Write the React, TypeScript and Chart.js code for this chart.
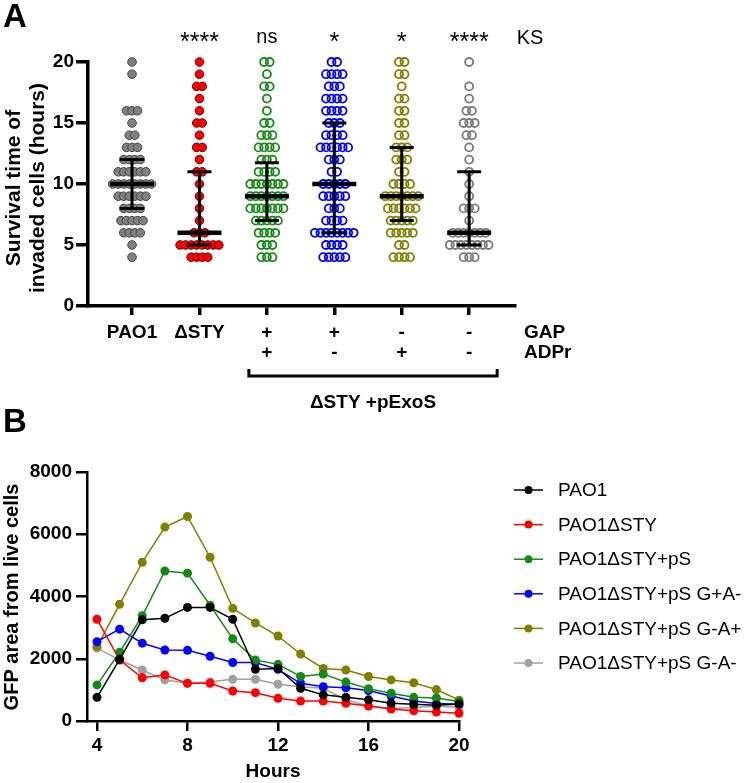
import React, { useEffect, useRef } from 'react';
import { Chart, registerables } from 'chart.js';
Chart.register(...registerables);

const FONT = '"Liberation Sans", Arial, Helvetica, sans-serif';

// ---------- Panel A data ----------
const groupLabels = ['PAO1', 'ΔSTY', '+', '+', '-', '-'];
const adprLabels = ['', '', '+', '-', '+', '-'];
const sigLabels = ['', '****', 'ns', '*', '*', '****'];
const survivalHours = [4, 5, 6, 7, 8, 9, 10, 11, 12, 13, 14, 15, 16, 17, 18, 19, 20];
const countsPAO1 = [1, 1, 4, 5, 4, 6, 8, 6, 4, 3, 2, 1, 3, 0, 0, 1, 1];
const countsDSTY = [4, 8, 3, 1, 1, 1, 1, 2, 1, 2, 1, 2, 1, 1, 2, 1, 1];
const countsGpAp = [3, 3, 4, 5, 7, 7, 7, 4, 3, 4, 3, 2, 1, 1, 2, 1, 2];
const countsGpAm = [5, 4, 8, 4, 3, 5, 5, 2, 3, 6, 4, 3, 4, 4, 3, 4, 2];
const countsGmAp = [4, 2, 5, 5, 6, 7, 4, 2, 3, 3, 2, 2, 2, 2, 1, 2, 2];
const countsGmAm = [3, 8, 7, 1, 3, 1, 1, 1, 1, 1, 2, 3, 2, 1, 1, 0, 1];
const medians = [10, 6, 9, 10, 9, 6];
const lowerBars = [8, 5, 7, 6, 7, 5];
const upperBars = [12, 11, 11.75, 15, 13, 11];

// ---------- Panel B data ----------
const hours = [4, 5, 6, 7, 8, 9, 10, 11, 12, 13, 14, 15, 16, 17, 18, 19, 20];
const seriesNames = ['PAO1', 'PAO1ΔSTY', 'PAO1ΔSTY+pS', 'PAO1ΔSTY+pS G+A-', 'PAO1ΔSTY+pS G-A+', 'PAO1ΔSTY+pS G-A-'];
const gfpPAO1 = [760, 1980, 3250, 3300, 3650, 3650, 3270, 1660, 1690, 1050, 840, 760, 680, 570, 535, 510, 545];
const gfpDSTY = [3270, 1960, 1390, 1480, 1210, 1210, 965, 910, 730, 640, 640, 570, 480, 385, 330, 290, 250];
const gfpPS = [1160, 2210, 3380, 4820, 4750, 3720, 2640, 1960, 1820, 1430, 1510, 1250, 1040, 890, 760, 740, 630];
const gfpGpAm = [2550, 2950, 2500, 2280, 2270, 2080, 1880, 1880, 1660, 1210, 1100, 1070, 980, 800, 640, 560, 540];
const gfpGmAp = [2390, 3750, 5100, 6230, 6570, 5260, 3620, 3150, 2730, 2150, 1690, 1640, 1430, 1320, 1230, 1010, 670];
const gfpGmAm = [2340, 1960, 1640, 1320, 1210, 1260, 1340, 1340, 1180, 1100, 1050, 680, 480, 400, 430, 470, 440];
const xTicksB = [4, 8, 12, 16, 20];

const DOT_STEP = 0.082;

function swarm(counts: number[], gi: number) {
  const pts: { x: number; y: number }[] = [];
  counts.forEach((n, k) => {
    for (let j = 0; j < n; j++) {
      pts.push({ x: gi + (j - (n - 1) / 2) * DOT_STEP, y: survivalHours[k] });
    }
  });
  return pts;
}

function textCenter(ctx: CanvasRenderingContext2D, txt: string, x: number, cy: number, font: string, align: CanvasTextAlign = 'center') {
  ctx.font = font;
  ctx.textAlign = align;
  ctx.textBaseline = 'alphabetic';
  const m = ctx.measureText(txt);
  ctx.fillText(txt, x, cy + (m.actualBoundingBoxAscent - m.actualBoundingBoxDescent) / 2);
}

export default function App() {
  const refA = useRef<HTMLCanvasElement>(null);
  const refB = useRef<HTMLCanvasElement>(null);

  useEffect(() => {
    Chart.defaults.font.family = FONT;
    Chart.defaults.color = '#000';

    const openStyle = (c: string) => ({
      pointBackgroundColor: 'rgba(255,255,255,0)',
      pointBorderColor: c,
      pointBorderWidth: 1.8,
      pointRadius: 4,
      clip: false,
    });

    const annotA = {
      id: 'annotA',
      afterDatasetsDraw(chart: any) {
        const ctx = chart.ctx as CanvasRenderingContext2D;
        const xs = chart.scales.x;
        const ys = chart.scales.y;
        ctx.save();
        ctx.strokeStyle = '#000';
        medians.forEach((m, i) => {
          const x = xs.getPixelForValue(i);
          const yU = ys.getPixelForValue(upperBars[i]);
          const yL = ys.getPixelForValue(lowerBars[i]);
          const yM = ys.getPixelForValue(m);
          ctx.lineWidth = 3;
          ctx.beginPath();
          ctx.moveTo(x, yU); ctx.lineTo(x, yL);
          ctx.moveTo(x - 12, yU); ctx.lineTo(x + 12, yU);
          ctx.moveTo(x - 12, yL); ctx.lineTo(x + 12, yL);
          ctx.stroke();
          ctx.lineWidth = 4.5;
          ctx.beginPath();
          ctx.moveTo(x - 22, yM); ctx.lineTo(x + 22, yM);
          ctx.stroke();
        });
        ctx.restore();
      },
      afterDraw(chart: any) {
        const ctx = chart.ctx as CanvasRenderingContext2D;
        const xs = chart.scales.x;
        ctx.save();
        ctx.fillStyle = '#000';
        // panel letter
        ctx.font = `bold 33px ${FONT}`;
        ctx.textAlign = 'left';
        ctx.textBaseline = 'alphabetic';
        ctx.fillText('A', 3, 27);
        // significance
        sigLabels.forEach((s, i) => {
          if (s) {
            const f = s.startsWith('*') ? `25px ${FONT}` : `20px ${FONT}`;
            textCenter(ctx, s, xs.getPixelForValue(i), 37, f);
          }
        });
        textCenter(ctx, 'KS', 530, 37, `20px ${FONT}`);
        // category labels
        ctx.font = `bold 19px ${FONT}`;
        ctx.textBaseline = 'alphabetic';
        ctx.textAlign = 'center';
        groupLabels.forEach((g, i) => ctx.fillText(g, xs.getPixelForValue(i), 338));
        adprLabels.forEach((g, i) => { if (g) ctx.fillText(g, xs.getPixelForValue(i), 358); });
        ctx.textAlign = 'left';
        ctx.fillText('GAP', 524, 338);
        ctx.fillText('ADPr', 524, 358);
        // bracket
        const bl = xs.getPixelForValue(2) - 18;
        const br = xs.getPixelForValue(5) + 28;
        ctx.strokeStyle = '#000';
        ctx.lineWidth = 3;
        ctx.beginPath();
        ctx.moveTo(bl, 369); ctx.lineTo(bl, 376); ctx.lineTo(br, 376); ctx.lineTo(br, 369);
        ctx.stroke();
        ctx.textAlign = 'center';
        ctx.fillText('ΔSTY +pExoS', (bl + br) / 2, 408);
        // y title
        ctx.save();
        ctx.translate(14, 188);
        ctx.rotate(-Math.PI / 2);
        ctx.font = `bold 21px ${FONT}`;
        ctx.textAlign = 'center';
        ctx.textBaseline = 'middle';
        ctx.fillText('Survival time of', 0, 0);
        ctx.fillText('invaded cells (hours)', 0, 24);
        ctx.restore();
        ctx.restore();
      },
    };

    const chartA = new Chart(refA.current!, {
      type: 'scatter',
      data: {
        datasets: [
          { data: swarm(countsPAO1, 0), pointBackgroundColor: '#808080', pointBorderColor: '#454545', pointBorderWidth: 1, pointRadius: 4.3, clip: false },
          { data: swarm(countsDSTY, 1), pointBackgroundColor: '#ff0000', pointBorderColor: '#6a0000', pointBorderWidth: 1, pointRadius: 4.3, clip: false },
          { data: swarm(countsGpAp, 2), ...openStyle('#168816') },
          { data: swarm(countsGpAm, 3), ...openStyle('#0000ff') },
          { data: swarm(countsGmAp, 4), ...openStyle('#808000') },
          { data: swarm(countsGmAm, 5), ...openStyle('#7a7a7a') },
        ],
      } as any,
      options: {
        responsive: false,
        maintainAspectRatio: false,
        animation: false,
        devicePixelRatio: 1,
        layout: { padding: { top: 62, right: 235, left: 0, bottom: 0 } },
        plugins: { legend: { display: false }, tooltip: { enabled: false } },
        scales: {
          x: {
            type: 'linear',
            min: -0.653,
            max: 5.68,
            afterBuildTicks: (s: any) => { s.ticks = groupLabels.map((_, i) => ({ value: i })); },
            afterFit: (s: any) => { s.height = 114; },
            ticks: { display: false },
            grid: { display: true, drawOnChartArea: false, drawTicks: true, tickLength: 9, color: '#000', lineWidth: 3.5 },
            border: { display: true, color: '#000', width: 3.5 },
          },
          y: {
            min: 0,
            max: 20,
            ticks: { stepSize: 5, font: { size: 19, weight: 'bold' }, color: '#000', padding: 2 },
            afterFit: (s: any) => { s.width = 88; },
            grid: { display: true, drawOnChartArea: false, drawTicks: true, tickLength: 12, color: '#000', lineWidth: 3.5 },
            border: { display: true, color: '#000', width: 3.5 },
          },
        },
      } as any,
      plugins: [annotA],
    });

    const colorsB = ['#000000', '#ff0000', '#138a13', '#0000ff', '#808000', '#a0a0a0'];
    const valuesB = [gfpPAO1, gfpDSTY, gfpPS, gfpGpAm, gfpGmAp, gfpGmAm];

    const annotB = {
      id: 'annotB',
      afterDraw(chart: any) {
        const ctx = chart.ctx as CanvasRenderingContext2D;
        ctx.save();
        ctx.fillStyle = '#000';
        ctx.font = `bold 33px ${FONT}`;
        ctx.textAlign = 'left';
        ctx.textBaseline = 'alphabetic';
        ctx.fillText('B', 3, 32);
        // y title
        ctx.save();
        ctx.translate(12, 197);
        ctx.rotate(-Math.PI / 2);
        ctx.font = `bold 20px ${FONT}`;
        ctx.textAlign = 'center';
        ctx.textBaseline = 'middle';
        ctx.fillText('GFP area from live cells', 0, 0);
        ctx.restore();
        // x title
        textCenter(ctx, 'Hours', 273, 370, `bold 19px ${FONT}`);
        // legend
        seriesNames.forEach((name, i) => {
          const y = 90 + i * 34.6;
          ctx.strokeStyle = colorsB[i];
          ctx.fillStyle = colorsB[i];
          ctx.lineWidth = 1.5;
          ctx.beginPath();
          ctx.moveTo(514, y); ctx.lineTo(543, y);
          ctx.stroke();
          ctx.beginPath();
          ctx.arc(528.5, y, 4, 0, Math.PI * 2);
          ctx.fill();
          ctx.fillStyle = '#000';
          ctx.font = `19px ${FONT}`;
          ctx.textAlign = 'left';
          ctx.textBaseline = 'middle';
          ctx.fillText(name, 558, y + 1);
        });
        ctx.restore();
      },
    };

    const chartB = new Chart(refB.current!, {
      type: 'line',
      data: {
        datasets: valuesB.map((vals, i) => ({
          label: seriesNames[i],
          data: hours.map((h, k) => ({ x: h, y: vals[k] })),
          borderColor: colorsB[i],
          backgroundColor: colorsB[i],
          pointBackgroundColor: colorsB[i],
          pointBorderColor: colorsB[i],
          pointBorderWidth: 0,
          pointRadius: 4.5,
          borderWidth: 1.5,
          tension: 0,
          fill: false,
          clip: false,
        })),
      } as any,
      options: {
        responsive: false,
        maintainAspectRatio: false,
        animation: false,
        devicePixelRatio: 1,
        layout: { padding: { top: 72, right: 291, left: 0, bottom: 0 } },
        plugins: { legend: { display: false }, tooltip: { enabled: false } },
        scales: {
          x: {
            type: 'linear',
            min: 3.558,
            max: 20,
            afterBuildTicks: (s: any) => { s.ticks = xTicksB.map((v) => ({ value: v })); },
            afterFit: (s: any) => { s.height = 62; },
            ticks: { font: { size: 19, weight: 'bold' }, color: '#000', padding: 3, maxRotation: 0, callback: (v: any) => String(v) },
            grid: { display: true, drawOnChartArea: false, drawTicks: true, tickLength: 10, color: '#000', lineWidth: 2.5 },
            border: { display: true, color: '#000', width: 2.5 },
          },
          y: {
            min: 0,
            max: 8000,
            ticks: { stepSize: 2000, font: { size: 19, weight: 'bold' }, color: '#000', padding: 4, callback: (v: any) => String(v) },
            afterFit: (s: any) => { s.width = 87; },
            grid: { display: true, drawOnChartArea: false, drawTicks: true, tickLength: 11, color: '#000', lineWidth: 2.5 },
            border: { display: true, color: '#000', width: 2.5 },
          },
        },
      } as any,
      plugins: [annotB],
    });

    return () => {
      chartA.destroy();
      chartB.destroy();
    };
  }, []);

  return (
    <div style={{ position: 'fixed', left: 0, top: 0, width: 750, height: 783, background: '#fff' }}>
      <canvas ref={refA} width={750} height={420} style={{ position: 'absolute', left: 0, top: 0 }} />
      <canvas ref={refB} width={750} height={383} style={{ position: 'absolute', left: 0, top: 400 }} />
    </div>
  );
}
